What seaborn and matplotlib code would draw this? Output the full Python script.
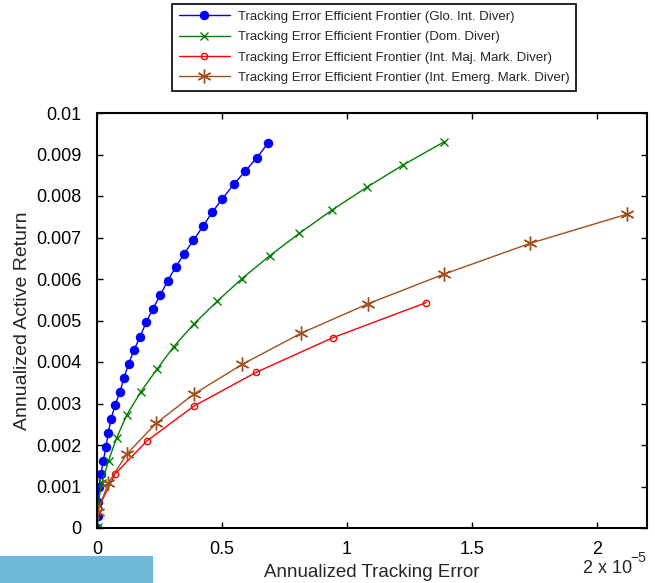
import numpy as np
import pandas as pd
import matplotlib
matplotlib.use("Agg")
import matplotlib.pyplot as plt
from matplotlib.patches import Rectangle
import seaborn as sns

# ---- data (x in units of 1e-5, y in units of 1e-3) ----
glo_te = [0.000, 0.002, 0.004, 0.008, 0.015, 0.025, 0.036, 0.045, 0.056, 0.072,
          0.092, 0.107, 0.127, 0.148, 0.172, 0.197, 0.223, 0.253, 0.283, 0.315,
          0.349, 0.385, 0.425, 0.461, 0.501, 0.547, 0.593, 0.639, 0.685]
glo_ar = [0.00, 0.30, 0.63, 0.98, 1.29, 1.61, 1.96, 2.29, 2.62, 2.96,
          3.28, 3.61, 3.96, 4.29, 4.61, 4.96, 5.28, 5.61, 5.96, 6.29,
          6.61, 6.93, 7.28, 7.61, 7.93, 8.28, 8.60, 8.92, 9.28]

dom_te = [0.003, 0.004, 0.019, 0.046, 0.079, 0.119, 0.175, 0.239, 0.307, 0.388,
          0.480, 0.580, 0.691, 0.809, 0.940, 1.079, 1.225, 1.387]
dom_ar = [0.02, 0.57, 1.08, 1.62, 2.18, 2.72, 3.28, 3.82, 4.37, 4.92,
          5.46, 6.01, 6.56, 7.10, 7.66, 8.21, 8.75, 9.30]

maj_te = [0.005, 0.072, 0.200, 0.388, 0.636, 0.945, 1.316]
maj_ar = [0.47, 1.30, 2.10, 2.94, 3.75, 4.59, 5.43]

emg_te = [0.002, 0.045, 0.119, 0.236, 0.388, 0.580, 0.815, 1.083, 1.389, 1.733, 2.119]
emg_ar = [0.38, 1.08, 1.78, 2.52, 3.23, 3.94, 4.69, 5.40, 6.12, 6.86, 7.56]

labels = ["Tracking Error Efficient Frontier (Glo. Int. Diver)",
          "Tracking Error Efficient Frontier (Dom. Diver)",
          "Tracking Error Efficient Frontier (Int. Maj. Mark. Diver)",
          "Tracking Error Efficient Frontier (Int. Emerg. Mark. Diver)"]

x_ticks = [0, 0.5, 1, 1.5, 2]
y_ticks = [0, 0.001, 0.002, 0.003, 0.004, 0.005, 0.006, 0.007, 0.008, 0.009, 0.01]

sns.set_style("ticks")
plt.rcParams["font.family"] = ["Liberation Sans", "DejaVu Sans"]

fig = plt.figure(figsize=(6.55, 5.83), dpi=100)
ax = fig.add_axes([97/655, 1-528/583, 550/655, 415/583])

colors = ["#0000FF", "#008000", "#FF0000", "#A0501E"]
styles = [
    dict(marker="o", markersize=6, markerfacecolor=colors[0], markeredgecolor=colors[0], markeredgewidth=0.8),
    dict(marker="x", markersize=6, markerfacecolor=colors[1], markeredgecolor=colors[1], markeredgewidth=1.0),
    dict(marker="o", markersize=4.5, markerfacecolor="none", markeredgecolor=colors[2], markeredgewidth=1.0),
    dict(marker=(6, 2, 0), markersize=10, markerfacecolor=colors[3], markeredgecolor=colors[3], markeredgewidth=1.0),
]
data = [(glo_te, glo_ar), (dom_te, dom_ar), (maj_te, maj_ar), (emg_te, emg_ar)]

for (te, ar), lab, col, mk in zip(data, labels, colors, styles):
    df = pd.DataFrame({"te": np.array(te) * 1e-5, "ar": np.array(ar) * 1e-3})
    sns.lineplot(data=df, x="te", y="ar", sort=False, estimator=None, ax=ax,
                 color=col, linewidth=1.0, label=lab, **mk)

ax.set_xlim(0, 2.2e-5)
ax.set_ylim(0, 0.01)
ax.set_xticks([v * 1e-5 for v in x_ticks])
ax.set_xticklabels([f"{v:g}" for v in x_ticks])
ax.set_yticks(y_ticks)
ax.set_yticklabels([f"{v:g}" for v in y_ticks])
ax.tick_params(direction="in", top=True, right=True, length=4, width=1.0,
               labelsize=13, colors="black")
ax.tick_params(axis="x", pad=9)
ax.tick_params(axis="y", pad=11)
for s in ax.spines.values():
    s.set_visible(True)
    s.set_linewidth(1.5)
    s.set_color("black")

ax.set_xlabel("Annualized Tracking Error", fontsize=13.5, labelpad=5)
ax.set_ylabel("Annualized Active Return", fontsize=14, labelpad=4)

ax.get_legend().remove()
h, l = ax.get_legend_handles_labels()
leg = fig.legend(h, l, loc="upper left", bbox_to_anchor=(172/655, 1-4/583),
                 borderaxespad=0, fontsize=9.5, handlelength=3.9, labelspacing=0.62,
                 frameon=True, fancybox=False, edgecolor="black", framealpha=1,
                 borderpad=0.5, handletextpad=0.6)
leg.get_frame().set_linewidth(1.2)

fig.text(583/655, 1-573/583, "2 x 10", fontsize=13, ha="left", va="baseline")
fig.text(630/655, 1-562/583, "\u22125", fontsize=10, ha="left", va="baseline")

fig.patches.append(Rectangle((0, 0), 153/655, 27/583, transform=fig.transFigure,
                             facecolor="#70B8D8", edgecolor="none", zorder=5))

fig.savefig("out.png", dpi=100)
